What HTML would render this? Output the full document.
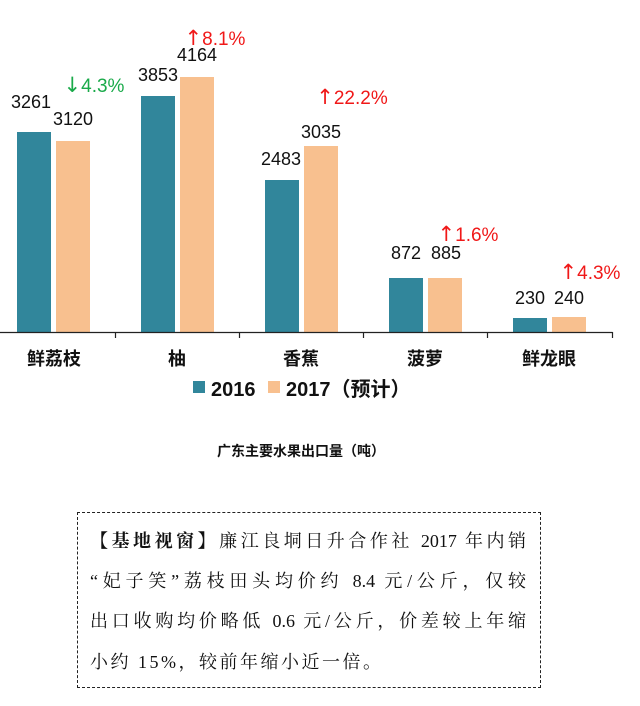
<!DOCTYPE html>
<html><head><meta charset="utf-8"><style>
body{margin:0;background:#fff;width:640px;height:706px;overflow:hidden;position:relative}
svg{position:absolute;left:0;top:0}
.box{position:absolute;left:77px;top:512px;width:462px;height:174px;border:1px dashed #222;font-family:"Liberation Serif","Noto Serif CJK SC",serif;font-size:18px;color:#111}
.ln{position:absolute;left:12px;width:436px;text-align:justify;text-align-last:justify;white-space:nowrap;height:24px;line-height:24px}
.ar{font-family:"DejaVu Sans",sans-serif;font-size:21px}
</style></head><body>
<svg width="640" height="706" font-family="'Liberation Sans','Noto Sans CJK SC',sans-serif">
<g fill="#31869b">
<rect x="17" y="132" width="34" height="200"/>
<rect x="141" y="96" width="34" height="236"/>
<rect x="265" y="180" width="34" height="152"/>
<rect x="389" y="278" width="34" height="54"/>
<rect x="513" y="318" width="34" height="14"/>
</g>
<g fill="#f8c08f">
<rect x="56" y="141" width="34" height="191"/>
<rect x="180" y="77" width="34" height="255"/>
<rect x="304" y="146" width="34" height="186"/>
<rect x="428" y="278" width="34" height="54"/>
<rect x="552" y="317" width="34" height="15"/>
</g>
<path d="M0 332.5H612.5M115.5 332V338M239.5 332V338M363.5 332V338M487.5 332V338M612.5 332V338" stroke="#222" stroke-width="1.2" fill="none"/>
<g font-size="18" fill="#111" text-anchor="middle">
<text x="31" y="108">3261</text><text x="73" y="125">3120</text>
<text x="158" y="81">3853</text><text x="197" y="61">4164</text>
<text x="281" y="165">2483</text><text x="321" y="138">3035</text>
<text x="406" y="259">872</text><text x="446" y="259">885</text>
<text x="530" y="304">230</text><text x="569" y="304">240</text>
</g>
<g font-size="19" text-anchor="middle">
<text x="94" y="92" fill="#1aaa4a"><tspan class="ar">↓</tspan>4.3%</text>
<text x="215" y="45" fill="#f01818"><tspan class="ar">↑</tspan>8.1%</text>
<text x="352" y="104" fill="#f01818"><tspan class="ar">↑</tspan>22.2%</text>
<text x="468" y="241" fill="#f01818"><tspan class="ar">↑</tspan>1.6%</text>
<text x="590" y="279" fill="#f01818"><tspan class="ar">↑</tspan>4.3%</text>
</g>
<g font-size="18" font-weight="bold" fill="#111" text-anchor="middle">
<text x="54" y="365">鲜荔枝</text><text x="177" y="365">柚</text><text x="301" y="365">香蕉</text><text x="425" y="365">菠萝</text><text x="549" y="365">鲜龙眼</text>
</g>
<rect x="193" y="381" width="12" height="12" fill="#31869b"/>
<rect x="268" y="381" width="12" height="12" fill="#f8c08f"/>
<g font-size="20" font-weight="bold" fill="#111">
<text x="211" y="396">2016</text><text x="286" y="396">2017（预计）</text>
</g>
<text x="301" y="456" font-size="14" font-weight="bold" fill="#111" text-anchor="middle">广东主要水果出口量（吨）</text>
</svg>
<div class="box">
<div class="ln" style="top:16px"><b>【基地视窗】</b>廉江良垌日升合作社 2017 年内销</div>
<div class="ln" style="top:56px">“妃子笑”荔枝田头均价约 8.4 元/公斤，仅较</div>
<div class="ln" style="top:96px">出口收购均价略低 0.6 元/公斤，价差较上年缩</div>
<div class="ln" style="top:137px;width:auto;text-align:left;text-align-last:auto;letter-spacing:2.5px">小约 15%，较前年缩小近一倍。</div>
</div>
</body></html>
